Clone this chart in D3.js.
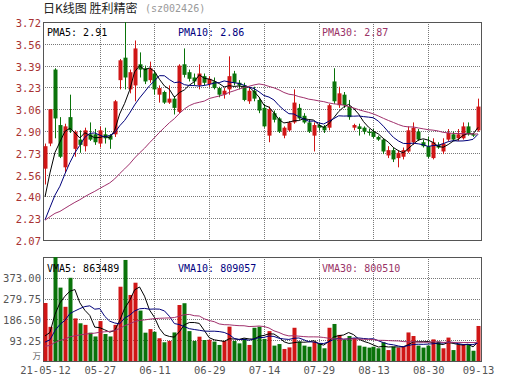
<!DOCTYPE html>
<html><head><meta charset="utf-8">
<script src="https://cdn.jsdelivr.net/npm/d3@7/dist/d3.min.js"></script>
<style>body{margin:0;background:#fff}svg{display:block}</style>
</head><body><svg id="c" width="530" height="391"></svg>
<script>
// ---- data ----
const dates = [
"2021-05-12","2021-05-13","2021-05-14","2021-05-17","2021-05-18","2021-05-19","2021-05-20","2021-05-21","2021-05-24","2021-05-25","2021-05-26","2021-05-27","2021-05-28","2021-05-31",
"2021-06-01","2021-06-02","2021-06-03","2021-06-04","2021-06-07","2021-06-08","2021-06-09","2021-06-10","2021-06-11","2021-06-15","2021-06-16","2021-06-17","2021-06-18","2021-06-21","2021-06-22","2021-06-23","2021-06-24","2021-06-25","2021-06-28","2021-06-29","2021-06-30",
"2021-07-01","2021-07-02","2021-07-05","2021-07-06","2021-07-07","2021-07-08","2021-07-09","2021-07-12","2021-07-13","2021-07-14","2021-07-15","2021-07-16","2021-07-19","2021-07-20","2021-07-21","2021-07-22","2021-07-23","2021-07-26","2021-07-27","2021-07-28","2021-07-29","2021-07-30",
"2021-08-02","2021-08-03","2021-08-04","2021-08-05","2021-08-06","2021-08-09","2021-08-10","2021-08-11","2021-08-12","2021-08-13","2021-08-16","2021-08-17","2021-08-18","2021-08-19","2021-08-20","2021-08-23","2021-08-24","2021-08-25","2021-08-26","2021-08-27","2021-08-30","2021-08-31",
"2021-09-01","2021-09-02","2021-09-03","2021-09-06","2021-09-07","2021-09-08","2021-09-09","2021-09-10","2021-09-13"];
const open  = [2.61,2.80,3.36,2.94,2.62,3.00,2.76,2.83,2.78,2.87,2.87,2.80,2.87,2.86,2.87,3.28,3.45,3.21,3.24,3.40,3.37,3.28,3.33,3.17,3.19,3.11,3.14,3.04,3.40,3.34,3.30,3.24,3.31,3.25,3.27,3.22,3.17,3.21,3.33,3.26,3.24,3.12,3.20,3.13,3.07,2.86,3.03,2.99,2.86,2.90,2.96,3.07,3.01,2.96,2.86,2.94,2.93,2.92,3.27,3.09,3.17,3.08,2.92,2.93,2.92,2.89,2.89,2.85,2.83,2.71,2.75,2.69,2.70,2.74,2.81,2.89,2.81,2.78,2.69,2.79,2.74,2.83,2.87,2.84,2.84,2.93,2.87,2.90];
const high  = [2.80,3.06,3.37,3.00,2.95,3.17,2.90,2.90,2.92,2.96,2.91,2.93,2.92,2.87,3.13,3.44,3.72,3.36,3.58,3.49,3.39,3.42,3.35,3.24,3.20,3.24,3.16,3.40,3.52,3.36,3.33,3.40,3.33,3.31,3.30,3.23,3.22,3.46,3.35,3.28,3.26,3.22,3.23,3.15,3.10,3.08,3.05,3.00,2.93,2.97,3.21,3.10,3.03,2.98,2.96,2.96,2.94,3.10,3.37,3.23,3.19,3.13,2.95,2.95,2.93,2.91,2.91,2.86,2.84,2.78,2.77,2.75,2.77,2.93,2.96,2.91,2.83,2.85,2.84,2.81,2.84,2.91,2.89,2.91,2.96,2.96,2.88,3.14];
const low   = [2.49,2.78,2.84,2.69,2.58,2.88,2.70,2.73,2.74,2.82,2.79,2.77,2.80,2.76,2.85,3.21,3.21,3.18,3.12,3.30,3.25,3.26,3.17,3.11,3.10,3.10,3.02,3.03,3.30,3.27,3.24,3.21,3.24,3.23,3.21,3.15,3.14,3.17,3.24,3.21,3.12,3.10,3.12,3.03,2.92,2.81,2.96,2.88,2.84,2.89,2.95,2.98,2.95,2.88,2.74,2.90,2.88,2.90,3.10,3.07,3.07,2.98,2.90,2.86,2.87,2.86,2.84,2.82,2.72,2.69,2.66,2.62,2.68,2.73,2.79,2.82,2.77,2.69,2.68,2.76,2.72,2.82,2.82,2.82,2.83,2.86,2.85,2.89];
const close = [2.78,3.06,2.99,2.70,2.93,2.90,2.89,2.79,2.90,2.83,2.81,2.90,2.84,2.83,3.12,3.43,3.30,3.34,3.52,3.36,3.27,3.37,3.21,3.22,3.11,3.14,3.07,3.39,3.32,3.29,3.27,3.33,3.26,3.29,3.22,3.17,3.20,3.31,3.26,3.24,3.13,3.20,3.14,3.05,2.93,3.06,2.98,2.89,2.92,2.96,3.11,2.99,2.96,2.89,2.94,2.92,2.90,3.09,3.12,3.18,3.09,3.00,2.94,2.91,2.89,2.88,2.85,2.83,2.74,2.75,2.68,2.73,2.75,2.90,2.92,2.83,2.78,2.70,2.81,2.77,2.80,2.88,2.83,2.87,2.93,2.87,2.86,3.08];
// volume in 万
const volume = [260,153,466,329,243,373,191,169,162,127,110,179,121,110,162,333,453,296,351,226,127,143,131,102,84,90,128,251,259,134,90,109,94,95,87,72,90,154,90,79,100,72,149,154,99,134,69,76,54,61,149,87,69,64,87,79,57,149,166,117,94,112,102,69,64,60,64,57,84,49,64,60,64,128,112,69,60,69,97,87,57,105,49,72,75,75,46,157];
// sessions before the window (used only for the moving averages)
const priorClose = [2.25,2.24,2.26,2.23,2.21,2.22,2.20,2.19,2.21,2.23,2.24,2.22,2.20,2.21,2.23,2.22,2.21,2.19,2.20,2.21,2.12,2.06,2.02,2.00,2.04,2.15,2.22,2.30,2.53];
const priorVolume = [55,62,48,70,66,52,58,61,45,50,57,64,49,53,60,72,58,47,55,63,51,49,56,60,68,75,62,70,95];

const priceTicks = [2.07,2.235,2.40,2.565,2.73,2.895,3.06,3.225,3.39,3.555,3.72];
const priceTickLabels = ["2.07","2.23","2.40","2.56","2.73","2.90","3.06","3.23","3.39","3.56","3.72"];
const volTicks = [93.25,186.5,279.75,373];
const volTickLabels = ["93.25","186.50","279.75","373.00"];
const volMax = 466.25;
const dateTicks = ["2021-05-12","2021-05-27","2021-06-11","2021-06-29","2021-07-14","2021-07-29","2021-08-13","2021-08-30","2021-09-13"];
const dateTickLabels = ["21-05-12","05-27","06-11","06-29","07-14","07-29","08-13","08-30","09-13"];
const gridDates = ["2021-05-27","2021-06-11","2021-06-29","2021-07-14","2021-07-29","2021-08-13","2021-08-30"];
const maPeriods = [5,10,30];
const pmaLegend = ["PMA5: 2.91","PMA10: 2.86","PMA30: 2.87"];
const vmaLegend = ["VMA5: 863489","VMA10: 809057","VMA30: 800510"];
const titleText = "日K线图 胜利精密";
const codeText = "(sz002426)";

// ---- layout ----
const L = 43, R = 481, PT = 22, PB = 240, VT = 257, VB = 361;
const RED = "#d01616", GREEN = "#0a730a";
const maColors = ["#000000","#00007a","#a0306c"];
const MONO = "'DejaVu Sans Mono', 'Liberation Mono', monospace";

const svg = d3.select("#c");
svg.append("rect").attr("width",530).attr("height",391).attr("fill","#fff");

const x = d3.scalePoint().domain(dates).range([45, 478]);
const yP = d3.scaleLinear().domain([2.07, 3.72]).range([PB, PT]);
const yV = d3.scaleLinear().domain([0, volMax]).range([VB, VT]);
const px = d => Math.round(x(d));

// title
svg.append("text").attr("x", L).attr("y", 13).attr("font-family","'Noto Sans CJK SC', sans-serif")
  .attr("font-size", 12).attr("fill","#222").attr("xml:space","preserve").text(titleText);
svg.append("text").attr("x", 145).attr("y", 12).attr("font-family", MONO)
  .attr("font-size", 10).attr("fill","#999").text(codeText);

function grid(top, bottom, yScale, ticks){
  const g = svg.append("g").attr("stroke","#777").attr("stroke-dasharray","1,1").attr("stroke-width",1);
  ticks.forEach(t => {
    const yy = Math.round(yScale(t)) + 0.5;
    g.append("line").attr("x1", L).attr("x2", R).attr("y1", yy).attr("y2", yy);
  });
  gridDates.forEach(d => {
    const xx = px(d) + 0.5;
    g.append("line").attr("x1", xx).attr("x2", xx).attr("y1", top).attr("y2", bottom);
  });
}
grid(PT, PB, yP, priceTicks.slice(1, -1));
grid(VT, VB, yV, volTicks);

// borders
svg.append("rect").attr("x", L+0.5).attr("y", PT+0.5).attr("width", R-L).attr("height", PB-PT)
  .attr("fill","none").attr("stroke","#555");
svg.append("rect").attr("x", L+0.5).attr("y", VT+0.5).attr("width", R-L).attr("height", VB-VT)
  .attr("fill","none").attr("stroke","#555");

// axes labels
const axP = svg.append("g").attr("transform",`translate(${L},0)`)
  .call(d3.axisLeft(yP).tickValues(priceTicks).tickFormat((d,i)=>priceTickLabels[i]).tickSize(0).tickPadding(2));
axP.select(".domain").remove();
axP.selectAll("text").attr("font-family", MONO).attr("font-size", 10.5).attr("fill","#a83232").attr("dy","0.42em");

const axV = svg.append("g").attr("transform",`translate(${L},0)`)
  .call(d3.axisLeft(yV).tickValues(volTicks).tickFormat((d,i)=>volTickLabels[i]).tickSize(0).tickPadding(2));
axV.select(".domain").remove();
axV.selectAll("text").attr("font-family", MONO).attr("font-size", 10.5).attr("fill","#555").attr("dy","0.38em");
svg.append("text").attr("x", 41).attr("y", 359).attr("text-anchor","end")
  .attr("font-family","'Noto Sans CJK SC', sans-serif").attr("font-size", 8.5).attr("fill","#666").text("万");

const axX = svg.append("g").attr("transform",`translate(0,${VB})`)
  .call(d3.axisBottom(x).tickValues(dateTicks).tickFormat((d,i)=>dateTickLabels[i]).tickSize(0).tickPadding(6));
axX.select(".domain").remove();
axX.selectAll("text").attr("font-family", MONO).attr("font-size", 10.5).attr("fill","#555");

// candles
const candles = svg.append("g");
dates.forEach((d,i) => {
  const up = close[i] >= open[i];
  const col = up ? RED : GREEN;
  const cx = px(d);
  candles.append("line").attr("x1", cx+0.5).attr("x2", cx+0.5)
    .attr("y1", yP(high[i])).attr("y2", yP(low[i])).attr("stroke", col).attr("stroke-width",1);
  const top = yP(Math.max(open[i], close[i])), bot = yP(Math.min(open[i], close[i]));
  candles.append("rect").attr("x", cx-1.5).attr("width", 4)
    .attr("y", top).attr("height", Math.max(1, bot-top)).attr("fill", col);
});

// volume bars
const bars = svg.append("g");
dates.forEach((d,i) => {
  const up = close[i] >= open[i];
  const cx = px(d);
  bars.append("rect").attr("x", cx-1.5).attr("width", 4)
    .attr("y", yV(volume[i])).attr("height", yV(0) - yV(volume[i])).attr("fill", up ? RED : GREEN);
});

// moving averages
function movingAvg(prior, series, n){
  const full = prior.concat(series);
  return series.map((_, i) => d3.mean(full.slice(i + prior.length - n + 1, i + prior.length + 1)));
}
maPeriods.forEach((n, k) => {
  const pm = movingAvg(priorClose, close, n);
  svg.append("path").attr("d", d3.line().x((v,i)=>x(dates[i])).y(v=>yP(v))(pm))
    .attr("fill","none").attr("stroke", maColors[k]).attr("stroke-width",1);
  const vm = movingAvg(priorVolume, volume, n);
  svg.append("path").attr("d", d3.line().x((v,i)=>x(dates[i])).y(v=>yV(v))(vm))
    .attr("fill","none").attr("stroke", maColors[k]).attr("stroke-width",1);
});

// legends
const legX = [47, 178, 322];
const legCols = ["#000","#000080","#993366"];
pmaLegend.forEach((t,k) => svg.append("text").attr("x", legX[k]).attr("y", 36)
  .attr("font-family", MONO).attr("font-size", 10).attr("fill", legCols[k]).text(t));
vmaLegend.forEach((t,k) => svg.append("text").attr("x", legX[k]).attr("y", 272)
  .attr("font-family", MONO).attr("font-size", 10).attr("fill", legCols[k]).text(t));
</script></body></html>
